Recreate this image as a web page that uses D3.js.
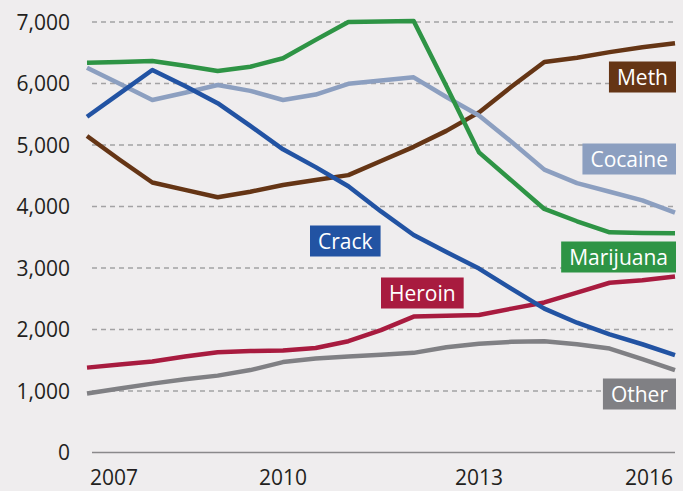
<!DOCTYPE html>
<html>
<head>
	<title>Drug cases</title>
	<script src="https://d3js.org/d3.v7.min.js" charset="utf-8"></script>
	<style>
		body { margin: 0; background: #efedee; }
		text { font-family: "Open Sans", sans-serif; }
	</style>
</head>
<body>
	<svg width="683" height="491"></svg>
	<script>
		// half-year steps from 2007 to 2016
		const years = d3.range(2007, 2016.01, 0.5);
		const yTicks = [0, 1000, 2000, 3000, 4000, 5000, 6000, 7000];
		const xTicks = [2007, 2010, 2013, 2016];

		const other     = [960, 1040, 1120, 1190, 1250, 1340, 1470, 1530, 1560, 1590, 1620, 1710, 1770, 1800, 1810, 1760, 1690, 1520, 1340];
		const heroin    = [1380, 1430, 1480, 1560, 1630, 1650, 1660, 1700, 1810, 1990, 2210, 2225, 2235, 2340, 2440, 2600, 2760, 2800, 2860];
		const meth      = [5146, 4760, 4390, 4270, 4150, 4240, 4350, 4430, 4510, 4740, 4970, 5230, 5530, 5950, 6350, 6420, 6510, 6590, 6654];
		const cocaine   = [6257, 5995, 5732, 5850, 5976, 5880, 5732, 5820, 5995, 6050, 6100, 5780, 5480, 5050, 4600, 4380, 4240, 4100, 3900];
		const crack     = [5460, 5840, 6220, 5960, 5680, 5310, 4930, 4640, 4330, 3920, 3537, 3260, 2990, 2660, 2340, 2110, 1920, 1760, 1585];
		const marijuana = [6338, 6350, 6366, 6290, 6203, 6273, 6410, 6710, 7000, 7010, 7016, 5960, 4880, 4420, 3960, 3760, 3580, 3568, 3564];

		const series = [
			{name: 'Other', values: other, color: '#808084'},
			{name: 'Heroin', values: heroin, color: '#a81b3f'},
			{name: 'Meth', values: meth, color: '#653515'},
			{name: 'Cocaine', values: cocaine, color: '#8c9fc0'},
			{name: 'Crack', values: crack, color: '#2253a3'},
			{name: 'Marijuana', values: marijuana, color: '#2e9445'}
		];

		// label boxes: right edge / left edge and vertical centre, in pixels
		const labelPos = {
			Meth:      {right: 676, cy: 77},
			Cocaine:   {right: 676, cy: 159},
			Marijuana: {right: 676, cy: 257},
			Other:     {right: 676, cy: 394},
			Crack:     {left: 310, cy: 241},
			Heroin:    {left: 381, cy: 293}
		};

		const svg = d3.select('svg');
		const x = d3.scaleLinear().domain([2007, 2016]).range([87, 675]);
		const y = d3.scaleLinear().domain([0, 7000]).range([452.5, 22]);

		// gridlines
		svg.append('g').selectAll('line')
			.data(yTicks.filter(d => d > 0))
			.enter().append('line')
			.attr('x1', 92).attr('x2', 675)
			.attr('y1', d => y(d)).attr('y2', d => y(d))
			.attr('stroke', '#a3a2a4')
			.attr('stroke-width', 1.3)
			.attr('stroke-dasharray', '5,4');

		svg.append('line')
			.attr('x1', 92).attr('x2', 675)
			.attr('y1', y(0)).attr('y2', y(0))
			.attr('stroke', '#8a898b')
			.attr('stroke-width', 1.5);

		// y tick labels
		svg.append('g').selectAll('text')
			.data(yTicks)
			.enter().append('text')
			.attr('x', 70)
			.attr('y', d => y(d) + 7.5)
			.attr('text-anchor', 'end')
			.attr('font-size', 21)
			.attr('fill', '#231f20')
			.text(d3.format(','));

		// x tick labels (ends pulled inside)
		svg.append('g').selectAll('text')
			.data(xTicks)
			.enter().append('text')
			.attr('x', (d, i) => i === 0 ? 90 : i === xTicks.length - 1 ? 673 : x(d))
			.attr('y', 485)
			.attr('text-anchor', (d, i) => i === 0 ? 'start' : i === xTicks.length - 1 ? 'end' : 'middle')
			.attr('font-size', 21)
			.attr('fill', '#231f20')
			.text(d => d);

		const line = d3.line()
			.x((d, i) => x(years[i]))
			.y(d => y(d));

		svg.append('g').selectAll('path')
			.data(series)
			.enter().append('path')
			.attr('d', d => line(d.values))
			.attr('fill', 'none')
			.attr('stroke', d => d.color)
			.attr('stroke-width', 4.5)
			.attr('stroke-linejoin', 'round');

		// labels
		series.forEach(s => {
			const p = labelPos[s.name];
			const g = svg.append('g');
			const rect = g.append('rect').attr('fill', s.color);
			const t = g.append('text')
				.attr('font-size', 21)
				.attr('fill', '#ffffff')
				.text(s.name);
			const w = t.node().getComputedTextLength() + 16;
			const left = p.left !== undefined ? p.left : p.right - w;
			rect.attr('x', left).attr('y', p.cy - 15.5).attr('width', w).attr('height', 31);
			t.attr('x', left + 8).attr('y', p.cy + 7.5);
		});
	</script>
</body>
</html>
